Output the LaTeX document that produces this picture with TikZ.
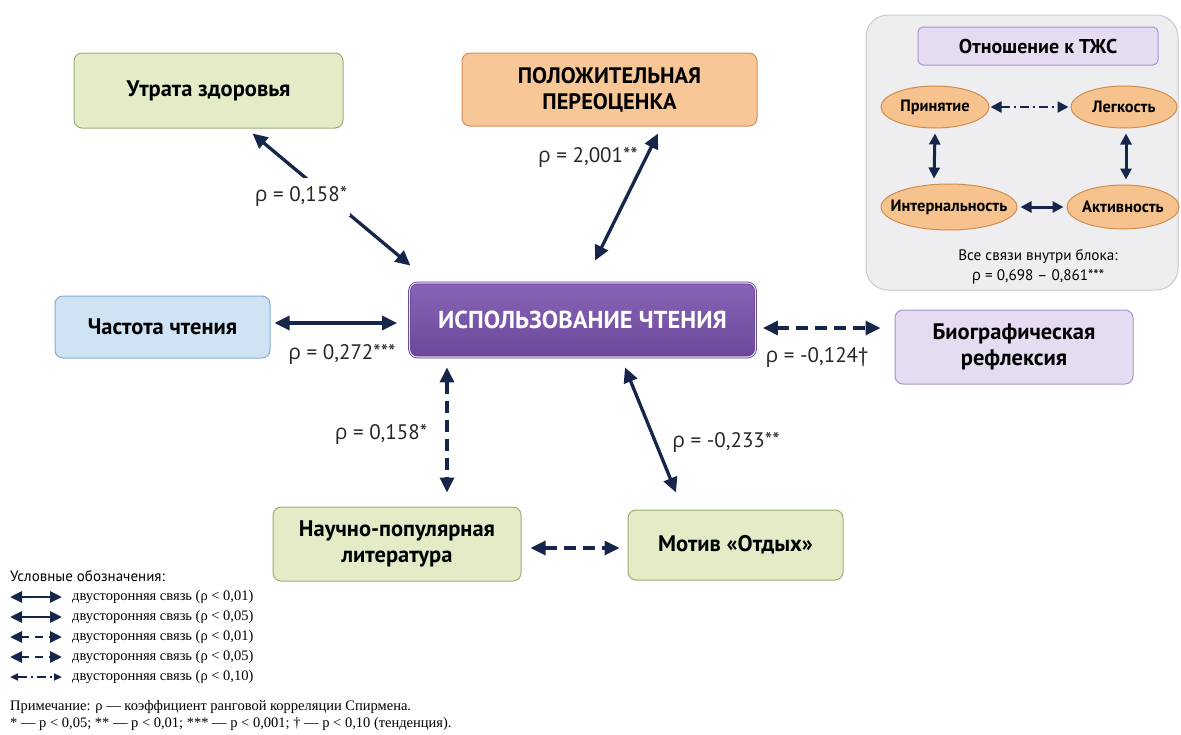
\documentclass[tikz,border=0pt]{standalone}
\usepackage{fontspec}
\setmainfont{PT Sans}
\newfontfamily\grk{Open Sans}
\newfontfamily\serf{Liberation Serif}
\usetikzlibrary{arrows.meta,shapes.geometric,calc}
\definecolor{navy}{HTML}{15264A}
\definecolor{grfill}{HTML}{E3ECC6}
\definecolor{grdraw}{HTML}{9AAE72}
\definecolor{orfill}{HTML}{F8C797}
\definecolor{ordraw}{HTML}{D48E55}
\definecolor{blfill}{HTML}{D0E3F5}
\definecolor{bldraw}{HTML}{86ABD6}
\definecolor{putop}{HTML}{8964B8}
\definecolor{pubot}{HTML}{6A4899}
\definecolor{pudraw}{HTML}{5A3C8A}
\definecolor{lvfill}{HTML}{E5DCF2}
\definecolor{lvdraw}{HTML}{A993CB}
\definecolor{gyfill}{HTML}{EEEEF1}
\definecolor{gydraw}{HTML}{C9C9CE}
\definecolor{elfill}{HTML}{F6C38F}
\definecolor{eldraw}{HTML}{CF8C4C}
\newcommand\rh{{\grk ρ}}
\newcommand\zw[1]{\makebox[0pt]{#1}}
\tikzset{
  box/.style={rectangle, rounded corners=8pt, line width=1pt, align=center,
    inner sep=0pt, text=black, font=\bfseries\fontsize{22.5}{26}\selectfont},
  greenbox/.style={box, fill=grfill, draw=grdraw},
  lbl/.style={font=\fontsize{21}{23}\selectfont, inner sep=1pt, text=black!85},
  conn/.style={draw=navy, line width=3.3pt,
    {Triangle[length=15pt,width=14pt]}-{Triangle[length=15pt,width=14pt]}},
  dconn/.style={conn, dash pattern=on 12pt off 7pt},
  sconn/.style={draw=navy, line width=3pt,
    {Triangle[length=11pt,width=11pt]}-{Triangle[length=11pt,width=11pt]}},
  ddconn/.style={sconn, line width=2.4pt, dash pattern=on 9pt off 4pt on 2pt off 4pt},
  oval/.style={ellipse, fill=elfill, draw=eldraw, line width=1pt, inner sep=0pt,
    font=\bfseries\fontsize{16.4}{19}\selectfont},
  legar/.style={draw=navy, line width=2.8pt,
    {Triangle[length=12pt,width=11pt]}-{Triangle[length=12pt,width=11pt]}},
  legtxt/.style={anchor=west, inner sep=0pt, font=\serf\fontsize{14.5}{16}\selectfont},
}
\begin{document}
\begin{tikzpicture}[x=1pt,y=-1pt]
\useasboundingbox (0,0) rectangle (1181,734);

% main boxes
\node[greenbox, minimum width=269pt, minimum height=75pt] (utr) at (208.5,90.5) {Утрата здоровья};
\node[box, fill=orfill, draw=ordraw, minimum width=295pt, minimum height=73pt,
  font=\bfseries\fontsize{22.4}{26}\selectfont] (pos) at (609.5,89.5) {ПОЛОЖИТЕЛЬНАЯ\\ПЕРЕОЦЕНКА};
\node[box, fill=blfill, draw=bldraw, minimum width=215pt, minimum height=62pt] (chast) at (162.5,327) {Частота чтения};
\node[box, top color=putop, bottom color=pubot, draw=pudraw, double=lvfill, double distance=1.1pt,
  line width=0.8pt, text=white, minimum width=346pt, minimum height=74pt,
  font=\bfseries\fontsize{24.5}{28}\selectfont] (use) at (582.5,320) {ИСПОЛЬЗОВАНИЕ ЧТЕНИЯ};
\node[box, fill=lvfill, draw=lvdraw, minimum width=238pt, minimum height=74pt] (bio) at (1014,347) {Биографическая\\рефлексия};
\node[greenbox, minimum width=248pt, minimum height=74pt] (nauch) at (397,544) {Научно-популярная\\литература};
\node[greenbox, minimum width=215pt, minimum height=70pt] (motiv) at (735.5,545) {Мотив «Отдых»};

% connectors
\draw[conn] ([xshift=44pt,yshift=-5pt]utr.south) -- ([xshift=-172pt,yshift=17pt]use.north);
\node[lbl, fill=white, inner xsep=3pt, inner ysep=9pt] (l1) at (301,197) {\rh{} = 0,158*};
\draw[conn] ([xshift=48.5pt,yshift=-7pt]pos.south) -- ([xshift=12.5pt,yshift=22pt]use.north);
\node[lbl] (l2) at (588,158) {\rh{} = 2,001**};
\draw[conn] ([xshift=4pt,yshift=4pt]chast.east) -- ([xshift=-12pt,yshift=-3pt]use.west);
\node[lbl] (l3) at (342,355) {\rh{} = 0,272***};
\draw[dconn] ([xshift=7pt,yshift=-8pt]use.east) -- ([xshift=-14pt,yshift=19pt]bio.west);
\node[lbl] (l4) at (817,358) {\rh{} = -0,124†};
\draw[dconn] ([xshift=-135.5pt,yshift=-10pt]use.south) -- ([xshift=50pt,yshift=14pt]nauch.north);
\node[lbl] (l5) at (381,435) {\rh{} = 0,158*};
\draw[conn] ([xshift=42.5pt,yshift=-10pt]use.south) -- ([xshift=-59.5pt,yshift=17pt]motiv.north);
\node[lbl] (l6) at (726,443) {\rh{} = -0,233**};
\draw[dconn] ([xshift=9pt,yshift=-4pt]nauch.east) -- ([xshift=-8pt,yshift=-3pt]motiv.west);

% gray panel
\node[rectangle, rounded corners=22pt, fill=gyfill, draw=gydraw, line width=1pt,
  minimum width=312pt, minimum height=275pt] (panel) at (1022,152.5) {};
\node[rectangle, rounded corners=5pt, fill=lvfill, draw=lvdraw, line width=1pt,
  minimum width=240pt, minimum height=38pt, font=\bfseries\fontsize{20}{22}\selectfont] (ttl) at (1038,46) {Отношение к ТЖС};
\node[oval, minimum width=108pt, minimum height=42pt] (prin) at (935,107) {\zw{Принятие}};
\node[oval, minimum width=106pt, minimum height=42pt] (legk) at (1124,107) {\zw{Легкость}};
\node[oval, minimum width=136pt, minimum height=46pt] (intr) at (949,207) {\zw{Интернальность}};
\node[oval, minimum width=112pt, minimum height=44pt] (akt) at (1123,207) {\zw{Активность}};
\draw[ddconn] ([xshift=1pt]prin.east) -- ([xshift=-2pt]legk.west);
\draw[sconn] ([yshift=-5pt]prin.south) -- ([xshift=-15pt,yshift=5pt]intr.north);
\draw[sconn] ([xshift=2pt,yshift=-5pt]legk.south) -- ([xshift=3pt,yshift=5pt]akt.north);
\draw[sconn] ([xshift=3pt]intr.east) -- ([xshift=-3pt]akt.west);
\node[align=center, font=\fontsize{15.2}{20}\selectfont, inner sep=0pt] (allc) at (1038,267)
  {Все связи внутри блока:\\\rh{} = 0,698 – 0,861***};

% legend
\node[anchor=west, inner sep=0pt, font=\fontsize{15}{16}\selectfont] (legt) at (10,576) {Условные обозначения:};
\coordinate (a1) at (10,597); \coordinate (b1) at (62,597);
\coordinate (a2) at (10,617); \coordinate (b2) at (62,617);
\coordinate (a3) at (10,637); \coordinate (b3) at (62,637);
\coordinate (a4) at (10,657); \coordinate (b4) at (62,657);
\coordinate (a5) at (10,677); \coordinate (b5) at (62,677);
\draw[legar] (a1) -- (b1);
\draw[legar] (a2) -- (b2);
\draw[legar, dash pattern=on 8pt off 6pt] (a3) -- (b3);
\draw[legar, dash pattern=on 8pt off 6pt] (a4) -- (b4);
\draw[legar, line width=2.2pt, {Triangle[length=8pt,width=7pt]}-{Triangle[length=8pt,width=7pt]},
  dash pattern=on 9pt off 4pt on 2pt off 4pt] (a5) -- (b5);
\node[legtxt] (t1) at (72,597) {двусторонняя связь (ρ < 0,01)};
\node[legtxt] (t2) at (72,617) {двусторонняя связь (ρ < 0,05)};
\node[legtxt] (t3) at (72,637) {двусторонняя связь (ρ < 0,01)};
\node[legtxt] (t4) at (72,657) {двусторонняя связь (ρ < 0,05)};
\node[legtxt] (t5) at (72,677) {двусторонняя связь (ρ < 0,10)};
\node[legtxt] (n1) at (10,707) {Примечание: ρ — коэффициент ранговой корреляции Спирмена.};
\node[legtxt] (n2) at (10,724) {* — p < 0,05; ** — p < 0,01; *** — p < 0,001; † — p < 0,10 (тенденция).};
\end{tikzpicture}
\end{document}
